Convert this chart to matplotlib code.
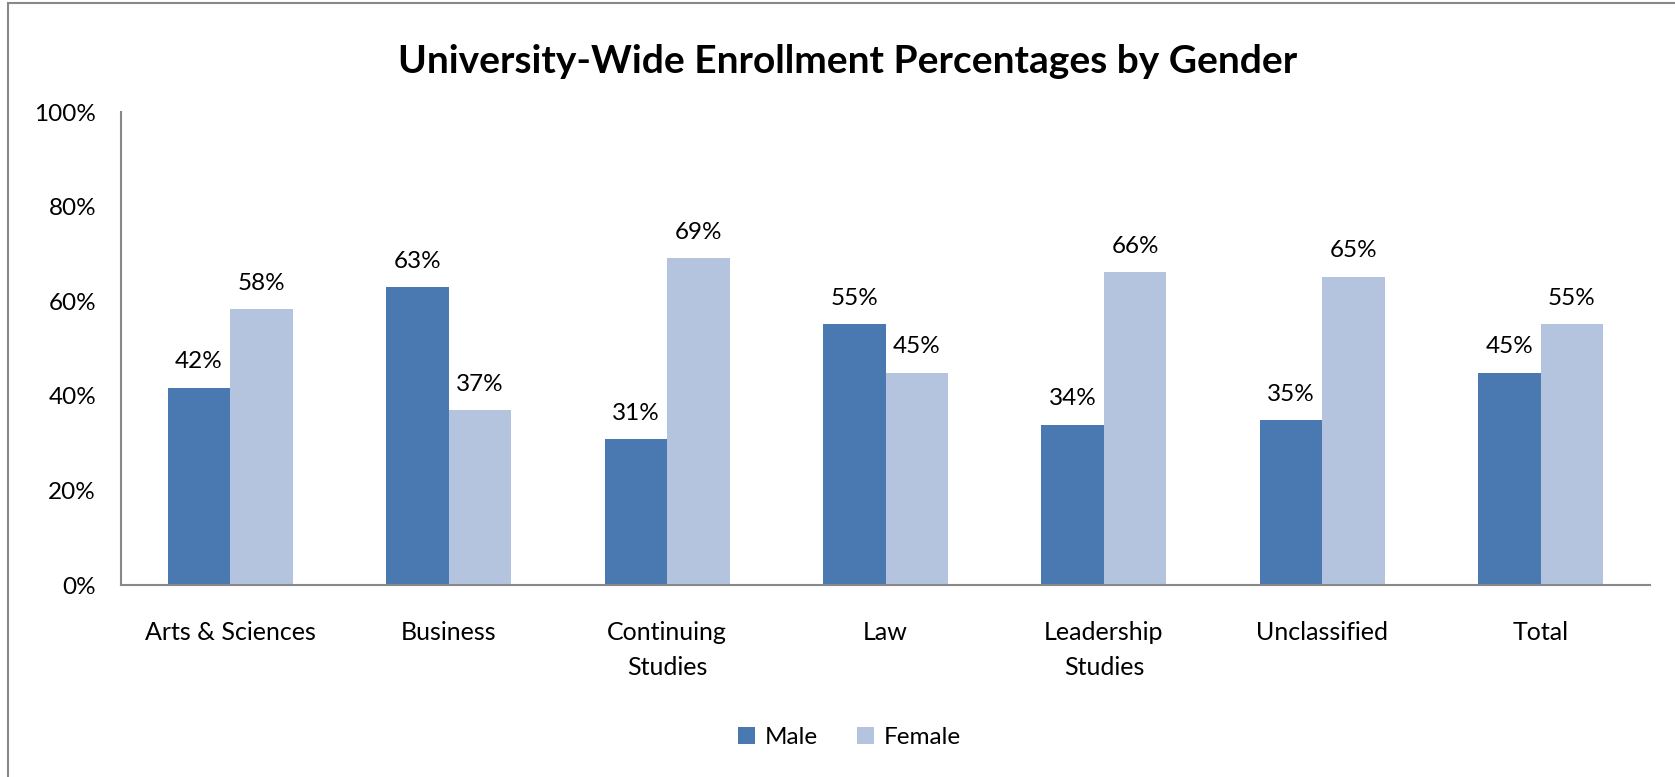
import matplotlib.pyplot as plt
import matplotlib.patches as patches
import numpy as np

categories = ['Arts & Sciences', 'Business', 'Continuing\nStudies', 'Law',
              'Leadership\nStudies', 'Unclassified', 'Total']
male = [41.7, 63.0, 30.9, 55.1, 33.9, 34.8, 44.9]
female = [58.3, 37.0, 69.1, 44.9, 66.1, 65.2, 55.1]
male_labels = ['42%', '63%', '31%', '55%', '34%', '35%', '45%']
female_labels = ['58%', '37%', '69%', '45%', '66%', '65%', '55%']

plt.rcParams['font.family'] = ['Lato', 'DejaVu Sans']

fig = plt.figure(figsize=(16.75, 7.77), dpi=100)
ax = fig.add_axes([121/1675, 1 - 585/777, (1650 - 121)/1675, (585 - 112)/777])

x = np.arange(len(categories))
w = 0.286
b1 = ax.bar(x - w/2, male, w, color='#4A78B0', label='Male')
b2 = ax.bar(x + w/2, female, w, color='#B5C4DE', label='Female')

for bars, labs in [(b1, male_labels), (b2, female_labels)]:
    for bar, lab in zip(bars, labs):
        ax.annotate(lab, (bar.get_x() + bar.get_width()/2, bar.get_height()),
                    xytext=(0, 11), textcoords='offset points',
                    ha='center', va='bottom', fontsize=17.5)

ax.set_xlim(-0.5, len(categories) - 0.5)
ax.set_ylim(0, 100)
ax.set_yticks([0, 20, 40, 60, 80, 100])
ax.set_yticklabels(['0%', '20%', '40%', '60%', '80%', '100%'], fontsize=17.5)
ax.set_xticks(x)
ax.set_xticklabels(categories, fontsize=18, linespacing=1.6, va='top')
ax.tick_params(axis='both', length=0)
ax.tick_params(axis='y', pad=18)
ax.tick_params(axis='x', pad=26)

for s in ['top', 'right']:
    ax.spines[s].set_visible(False)
for s in ['left', 'bottom']:
    ax.spines[s].set_color('#888888')
    ax.spines[s].set_linewidth(1.5)

fig.text(0.506, 0.921, 'University-Wide Enrollment Percentages by Gender',
         ha='center', va='center', fontsize=28, fontweight='bold')

fig.legend(handles=[b1, b2], labels=['Male', 'Female'], loc='center',
           bbox_to_anchor=(0.507, 0.051), ncol=2, frameon=False, fontsize=17.5,
           handlelength=0.7, handleheight=0.7, handletextpad=0.4, columnspacing=1.6)

# outer chart border
fig.patches.append(patches.Rectangle((8/1675, -0.05), 1.1, 1.05 - 3/777,
                                     transform=fig.transFigure, fill=False,
                                     edgecolor='#888888', linewidth=1.5))

fig.savefig('out.png', dpi=100)
